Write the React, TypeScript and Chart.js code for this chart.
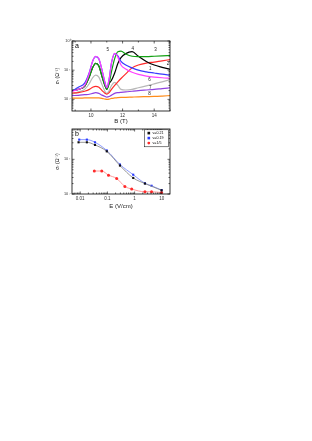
import { useEffect, useRef } from 'react';
import { Chart, registerables } from 'chart.js';
Chart.register(...registerables);

// ---------- Panel a data ----------
const fieldB = [8.8, 9.2, 9.6, 9.9, 10.1, 10.3, 10.5, 10.7, 10.9, 11.0, 11.15, 11.3, 11.5, 11.7, 11.9, 12.2, 12.6, 13.0, 13.5, 14.0, 14.5, 15.0];
const sigma1 = [0.019, 0.026, 0.036, 0.085, 0.2, 0.29, 0.24, 0.1, 0.035, 0.025, 0.05, 0.18, 0.37, 0.31, 0.2, 0.15, 0.12, 0.1, 0.088, 0.08, 0.073, 0.068];
const sigma2 = [0.0165, 0.017, 0.019, 0.022, 0.026, 0.028, 0.026, 0.02, 0.016, 0.015, 0.017, 0.022, 0.03, 0.04, 0.052, 0.075, 0.12, 0.15, 0.175, 0.19, 0.21, 0.23];
const sigma3 = [0.0205, 0.022, 0.028, 0.06, 0.12, 0.17, 0.14, 0.06, 0.028, 0.022, 0.035, 0.09, 0.25, 0.43, 0.45, 0.36, 0.3, 0.29, 0.29, 0.3, 0.31, 0.32];
const sigma4 = [0.0205, 0.022, 0.028, 0.06, 0.12, 0.17, 0.14, 0.06, 0.028, 0.022, 0.035, 0.045, 0.08, 0.17, 0.27, 0.37, 0.43, 0.3, 0.2, 0.15, 0.125, 0.107];
const sigma5 = [0.019, 0.022, 0.03, 0.08, 0.2, 0.3, 0.25, 0.1, 0.035, 0.025, 0.05, 0.18, 0.38, 0.28, 0.15, 0.11, 0.085, 0.072, 0.063, 0.058, 0.055, 0.053];
const sigma6 = [0.015, 0.018, 0.022, 0.035, 0.055, 0.068, 0.058, 0.032, 0.018, 0.016, 0.02, 0.03, 0.038, 0.03, 0.022, 0.021, 0.022, 0.025, 0.029, 0.034, 0.04, 0.047];
const sigma7 = [0.0135, 0.0138, 0.0145, 0.015, 0.016, 0.017, 0.016, 0.014, 0.0125, 0.012, 0.0125, 0.014, 0.016, 0.017, 0.0175, 0.018, 0.019, 0.02, 0.021, 0.022, 0.0235, 0.025];
const sigma8 = [0.011, 0.011, 0.0112, 0.0113, 0.0113, 0.0113, 0.0112, 0.0108, 0.0102, 0.01, 0.0102, 0.0108, 0.0112, 0.0115, 0.0117, 0.0118, 0.012, 0.0122, 0.0124, 0.0126, 0.013, 0.0135];
const curveNames = ['1', '2', '3', '4', '5', '6', '7', '8'];
const curveColors = ['#3a3aff', '#ff2a2a', '#12a012', '#000000', '#ff40ff', '#b8b8b8', '#9040e0', '#ff8c1a'];
const curveOrder = [2, 5, 3, 4, 1, 6, 7, 8];
const curveLabelB = [13.75, 14.87, 14.08, 12.65, 11.06, 13.7, 13.75, 13.7];
const curveLabelSigma = [0.108, 0.17, 0.49, 0.54, 0.52, 0.048, 0.0245, 0.0158];
const aYTicks = [0.01, 0.1, 1];
const aYTickLabels = ['10⁻²', '10⁻¹', '10⁰'];
const aXTicks = [10, 12, 14];
const aXMinor = [9, 11, 13, 15];

// ---------- Panel b data ----------
const fieldE021 = [0.0087, 0.0176, 0.035, 0.095, 0.29, 0.89, 2.4, 9.8];
const sigmaNu021 = [0.31, 0.31, 0.26, 0.17, 0.066, 0.029, 0.02, 0.0128];
const fieldE019 = [0.0092, 0.0176, 0.035, 0.095, 0.29, 0.89, 2.4, 4.2, 9.8];
const sigmaNu019 = [0.37, 0.37, 0.31, 0.18, 0.071, 0.036, 0.0204, 0.0173, 0.013];
const fieldE15 = [0.033, 0.062, 0.11, 0.22, 0.44, 0.78, 2.4, 4.2, 9.8];
const sigmaNu15 = [0.046, 0.046, 0.035, 0.028, 0.0165, 0.0139, 0.0116, 0.0116, 0.011];
const bSeriesNames = ['ν=0.21', 'ν=0.19', 'ν=1/5'];
const bYTicks = [0.01, 0.1];
const bYTickLabels = ['10⁻²', '10⁻¹'];
const bXTicks = [0.01, 0.1, 1, 10];
const bXTickLabels = ['0.01', '0.1', '1', '10'];

const FONT = '"Liberation Sans", Arial, sans-serif';

function logMinor(min: number, max: number) {
  const out: number[] = [];
  for (let e = -4; e <= 2; e++) {
    for (let m = 2; m <= 9; m++) {
      const v = m * Math.pow(10, e);
      if (v > min && v < max) out.push(v);
    }
  }
  return out;
}

const framePlugin = {
  id: 'frame',
  afterDatasetsDraw(chart: any, _args: any, opts: any) {
    const { ctx, chartArea: a, scales } = chart;
    ctx.save();
    ctx.strokeStyle = '#000';
    ctx.lineWidth = 0.8;
    ctx.strokeRect(a.left, a.top, a.right - a.left, a.bottom - a.top);
    const drawX = (vals: number[], len: number) => {
      vals.forEach((v) => {
        const px = scales.x.getPixelForValue(v);
        if (px < a.left || px > a.right) return;
        ctx.beginPath();
        ctx.moveTo(px, a.bottom); ctx.lineTo(px, a.bottom - len);
        ctx.moveTo(px, a.top); ctx.lineTo(px, a.top + len);
        ctx.stroke();
      });
    };
    const drawY = (vals: number[], len: number) => {
      vals.forEach((v) => {
        const py = scales.y.getPixelForValue(v);
        if (py < a.top || py > a.bottom) return;
        ctx.beginPath();
        ctx.moveTo(a.left, py); ctx.lineTo(a.left + len, py);
        ctx.moveTo(a.right, py); ctx.lineTo(a.right - len, py);
        ctx.stroke();
      });
    };
    ctx.lineWidth = 0.6;
    drawX(opts.xMajor || [], 2.5);
    drawX(opts.xMinor || [], 1.5);
    drawY(opts.yMajor || [], 2.5);
    drawY(opts.yMinor || [], 1.5);
    ctx.fillStyle = '#000';
    ctx.font = `7px ${FONT}`;
    ctx.textAlign = 'left';
    ctx.textBaseline = 'top';
    ctx.fillText(opts.label, a.left + 3, a.top + 2);
    ctx.restore();
  },
};

const curveLabelPlugin = {
  id: 'curveLabels',
  afterDatasetsDraw(chart: any) {
    const { ctx, scales } = chart;
    ctx.save();
    ctx.fillStyle = '#222';
    ctx.font = `4.5px ${FONT}`;
    ctx.textAlign = 'center';
    ctx.textBaseline = 'middle';
    curveNames.forEach((n, i) => {
      ctx.fillText(n, scales.x.getPixelForValue(curveLabelB[i]), scales.y.getPixelForValue(curveLabelSigma[i]));
    });
    ctx.restore();
  },
};

const legendPlugin = {
  id: 'insideLegend',
  afterDatasetsDraw(chart: any) {
    const { ctx, chartArea: a } = chart;
    const w = 24, h = 17;
    const x0 = a.right - w - 1.5, y0 = a.top + 0.8;
    ctx.save();
    ctx.fillStyle = '#fff';
    ctx.fillRect(x0, y0, w, h);
    ctx.strokeStyle = '#000';
    ctx.lineWidth = 0.5;
    ctx.strokeRect(x0, y0, w, h);
    chart.data.datasets.forEach((ds: any, i: number) => {
      const cy = y0 + 3.3 + i * 5;
      ctx.fillStyle = ds.pointBackgroundColor;
      if (ds.pointStyle === 'rect') ctx.fillRect(x0 + 3, cy - 1.3, 2.6, 2.6);
      else { ctx.beginPath(); ctx.arc(x0 + 4.3, cy, 1.4, 0, Math.PI * 2); ctx.fill(); }
      ctx.fillStyle = '#000';
      ctx.font = `3.6px ${FONT}`;
      ctx.textAlign = 'left';
      ctx.textBaseline = 'middle';
      ctx.fillText(ds.label, x0 + 8, cy);
    });
    ctx.restore();
  },
};

function configA(): any {
  const sigmas = [sigma1, sigma2, sigma3, sigma4, sigma5, sigma6, sigma7, sigma8];
  return {
    type: 'line',
    data: {
      datasets: sigmas.map((s, i) => ({
        label: curveNames[i],
        data: fieldB.map((b, j) => ({ x: b, y: s[j] })),
        borderColor: curveColors[i],
        borderWidth: 1.2,
        pointRadius: 0,
        cubicInterpolationMode: 'monotone',
        order: curveOrder[i],
      })),
    },
    options: {
      animation: false,
      responsive: false,
      devicePixelRatio: 1,
      layout: { padding: { left: 55, top: 41, right: 142, bottom: 0 } },
      plugins: {
        legend: { display: false },
        tooltip: { enabled: false },
        frame: { label: 'a', xMajor: aXTicks, xMinor: aXMinor, yMajor: aYTicks, yMinor: logMinor(0.004, 1) },
      },
      scales: {
        x: {
          type: 'linear', min: 8.8, max: 15,
          afterBuildTicks: (sc: any) => { sc.ticks = aXTicks.map((v) => ({ value: v })); },
          afterFit: (sc: any) => { sc.height = 19; },
          grid: { display: false, drawTicks: false },
          border: { display: false },
          ticks: { font: { size: 4.5, family: FONT }, color: '#333', padding: 2, maxRotation: 0 },
          title: { display: true, text: 'B (T)', font: { size: 6, family: FONT }, color: '#222', padding: { top: 0, bottom: 5 } },
        },
        y: {
          type: 'logarithmic', min: 0.004, max: 1,
          afterBuildTicks: (sc: any) => { sc.ticks = aYTicks.map((v) => ({ value: v })); },
          afterFit: (sc: any) => { sc.width = 17; },
          grid: { display: false, drawTicks: false },
          border: { display: false },
          ticks: { font: { size: 3.8, family: FONT }, color: '#333', padding: 1.5, callback: (_v: any, i: number) => aYTickLabels[i] },
          title: { display: true, text: 'σᵣ (Ω⁻¹)', font: { size: 5, family: FONT }, color: '#222', padding: { top: 0, bottom: 0 } },
        },
      },
    },
    plugins: [framePlugin, curveLabelPlugin],
  };
}

function configB(): any {
  const series = [
    { e: fieldE021, s: sigmaNu021, pc: '#111111', lc: '#8a8a8a', ps: 'rect' },
    { e: fieldE019, s: sigmaNu019, pc: '#2b3cff', lc: '#8090ff', ps: 'rect' },
    { e: fieldE15, s: sigmaNu15, pc: '#ff2a2a', lc: '#ff9090', ps: 'circle' },
  ];
  return {
    type: 'line',
    data: {
      datasets: series.map((sr, i) => ({
        label: bSeriesNames[i],
        data: sr.e.map((e, j) => ({ x: e, y: sr.s[j] })),
        borderColor: sr.lc,
        borderWidth: 0.9,
        pointRadius: 1.5,
        pointStyle: sr.ps,
        pointBackgroundColor: sr.pc,
        pointBorderColor: sr.pc,
        pointBorderWidth: 0,
        cubicInterpolationMode: 'monotone',
      })),
    },
    options: {
      animation: false,
      responsive: false,
      devicePixelRatio: 1,
      layout: { padding: { left: 55, top: 7, right: 142, bottom: 0 } },
      plugins: {
        legend: { display: false },
        tooltip: { enabled: false },
        frame: { label: 'b', xMajor: bXTicks, xMinor: logMinor(0.005, 20), yMajor: bYTicks, yMinor: logMinor(0.01, 0.75) },
      },
      scales: {
        x: {
          type: 'logarithmic', min: 0.005, max: 20,
          afterBuildTicks: (sc: any) => { sc.ticks = bXTicks.map((v) => ({ value: v })); },
          afterFit: (sc: any) => { sc.height = 23; },
          grid: { display: false, drawTicks: false },
          border: { display: false },
          ticks: { font: { size: 4.5, family: FONT }, color: '#333', padding: 2, maxRotation: 0, callback: (_v: any, i: number) => bXTickLabels[i] },
          title: { display: true, text: 'E (V/cm)', font: { size: 6, family: FONT }, color: '#222', padding: { top: 0, bottom: 7.4 } },
        },
        y: {
          type: 'logarithmic', min: 0.01, max: 0.75,
          afterBuildTicks: (sc: any) => { sc.ticks = bYTicks.map((v) => ({ value: v })); },
          afterFit: (sc: any) => { sc.width = 17; },
          grid: { display: false, drawTicks: false },
          border: { display: false },
          ticks: { font: { size: 3.8, family: FONT }, color: '#333', padding: 1.5, callback: (_v: any, i: number) => bYTickLabels[i] },
          title: { display: true, text: 'σᵣ (Ω⁻¹)', font: { size: 5, family: FONT }, color: '#222', padding: { top: 0, bottom: 0 } },
        },
      },
    },
    plugins: [framePlugin, legendPlugin],
  };
}

export default function App() {
  const refA = useRef<HTMLCanvasElement>(null);
  const refB = useRef<HTMLCanvasElement>(null);
  useEffect(() => {
    const a = new Chart(refA.current!, configA());
    const b = new Chart(refB.current!, configB());
    return () => { a.destroy(); b.destroy(); };
  }, []);
  return (
    <div style={{ position: 'absolute', left: 0, top: 0, width: 312, height: 441, background: '#fff' }}>
      <canvas ref={refA} width={312} height={130} style={{ position: 'absolute', left: 0, top: 0, width: 312, height: 130 }} />
      <canvas ref={refB} width={312} height={95} style={{ position: 'absolute', left: 0, top: 122, width: 312, height: 95 }} />
    </div>
  );
}
